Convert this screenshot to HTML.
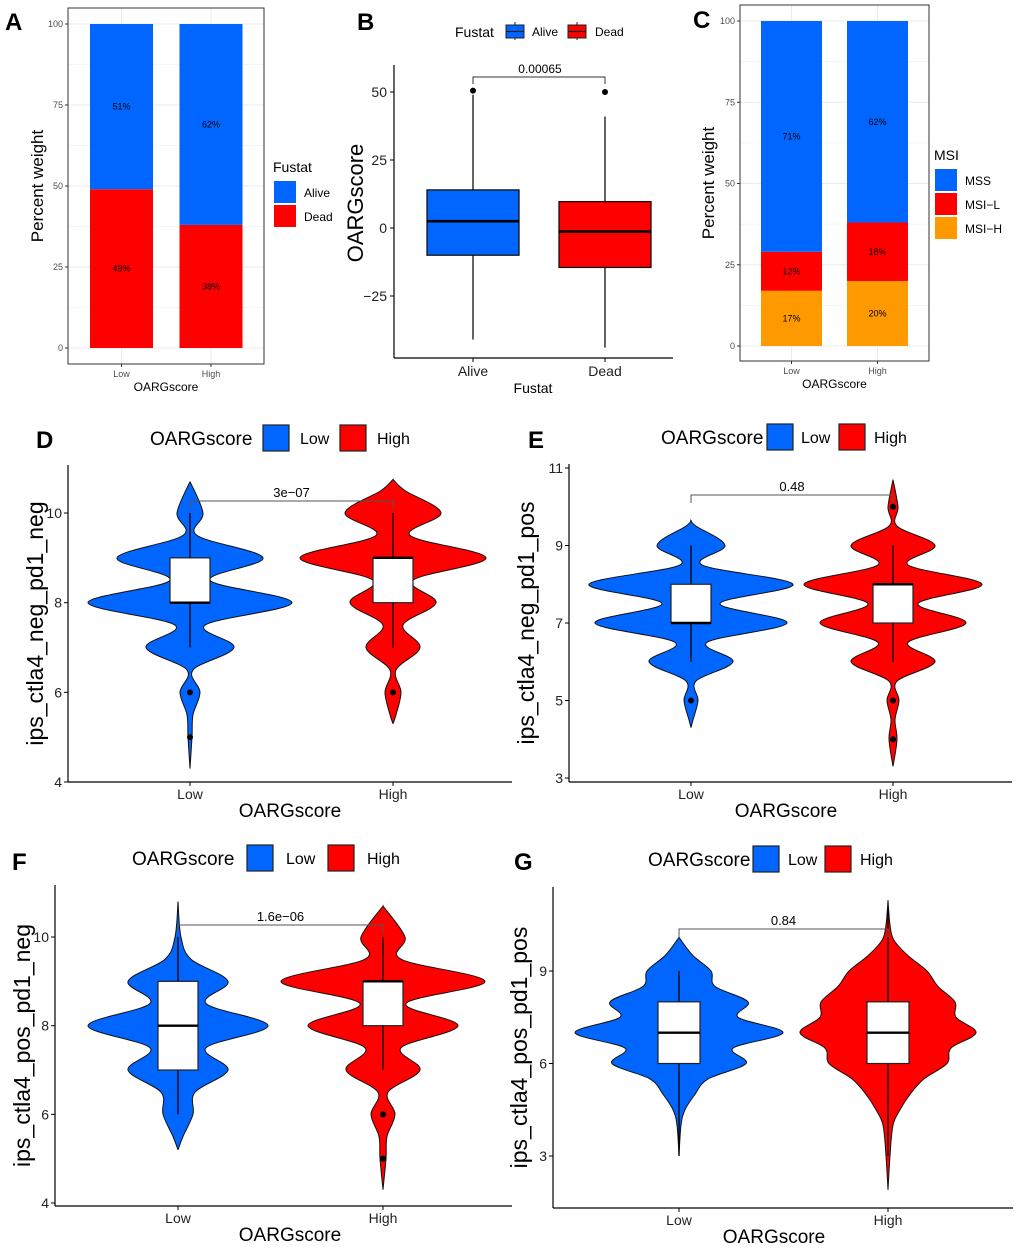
<!DOCTYPE html>
<html><head><meta charset="utf-8">
<style>
html,body{margin:0;padding:0;background:#fff;}
svg{display:block;font-family:"Liberation Sans",Arial,sans-serif;}
</style></head>
<body>
<svg id="fig" width="1020" height="1252" viewBox="0 0 1020 1252" xmlns="http://www.w3.org/2000/svg"></svg>
<script>
// ---------- Panel A data ----------
const aCategories = ["Low","High"];
const aDead = [49, 38];
const aAlive = [51, 62];
// ---------- Panel B data ----------
const bCategories = ["Alive","Dead"];
const bQ1 = [-10, -14.5];
const bMedian = [2.5, -1.3];
const bQ3 = [14, 9.7];
const bWhiskLo = [-41, -44];
const bWhiskHi = [49, 41];
const bOutliers = [[50.5],[50]];
const bTicks = [50, 25, 0, -25];
const bPLabel = "0.00065";
// ---------- Panel C data ----------
const cCategories = ["Low","High"];
const cMSIH = [17, 20];
const cMSIL = [12, 18];
const cMSS = [71, 62];
// ---------- Violin data (values, densities) ----------
const dTicks = [4,6,8,10];
const dLowVals = [4.3,5,5.5,6,6.5,7,7.5,8,8.5,9,9.5,10,10.7];
const dLowDens = [0,0.02,0.03,0.10,0.03,0.44,0.15,1.02,0.20,0.73,0.07,0.13,0];
const dHighVals = [5.3,5.5,6,6.5,7,7.5,8,8.5,9,9.5,10,10.5,10.75];
const dHighDens = [0,0.03,0.08,0.03,0.27,0.10,0.43,0.20,0.93,0.17,0.48,0.12,0];
const dLowBox = [7,8,8,9,10]; const dHighBox = [7,8,9,9,10];
const dLowOut = [6,5]; const dHighOut = [6];

const eTicks = [3,5,7,9,11];
const eLowVals = [4.3,4.5,5,5.5,6,6.5,7,7.5,8,8.5,9,9.5,9.65];
const eLowDens = [0,0.02,0.07,0.05,0.42,0.16,0.96,0.29,1.02,0.11,0.34,0.05,0];
const eHighVals = [3.3,4,4.5,5,5.5,6,6.5,7,7.5,8,8.5,9,9.5,10,10.7];
const eHighDens = [0,0.04,0.02,0.06,0.04,0.42,0.15,0.73,0.25,0.89,0.15,0.42,0.04,0.05,0];
const eLowBox = [6,7,7,8,9]; const eHighBox = [6,7,8,8,9];
const eLowOut = [5]; const eHighOut = [10,5,4];

const fTicks = [4,6,8,10];
const fLowVals = [5.2,5.5,6,6.5,7,7.5,8,8.5,9,9.5,10,10.8];
const fLowDens = [0,0.05,0.15,0.17,0.50,0.28,0.90,0.28,0.50,0.13,0.03,0];
const fHighVals = [4.3,5,5.5,6,6.5,7,7.5,8,8.5,9,9.5,10,10.7];
const fHighDens = [0,0.03,0.04,0.12,0.05,0.37,0.18,0.75,0.23,1.02,0.18,0.22,0];
const fLowBox = [6,7,8,9,10]; const fHighBox = [7,8,9,9,10];
const fLowOut = []; const fHighOut = [6,5];

const gTicks = [3,6,9];
const gLowVals = [3,4,4.5,5,5.5,6,6.5,7,7.5,8,8.5,9,9.5,10,10.1];
const gLowDens = [0,0.02,0.06,0.16,0.29,0.67,0.54,1.04,0.59,0.69,0.36,0.32,0.14,0.02,0];
const gHighVals = [1.9,3,4,4.5,5,5.5,6,6.5,7,7.5,8,8.5,9,9.5,10,10.5,11.3];
const gHighDens = [0,0.02,0.05,0.12,0.22,0.36,0.59,0.63,0.88,0.68,0.67,0.50,0.39,0.20,0.06,0.02,0];
const gLowBox = [3,6,7,8,9]; const gHighBox = [3,6,7,8,11];
const gLowOut = []; const gHighOut = [];

const BLUE = "#0066ff", RED = "#ff0000", ORANGE = "#ff9900";
const svg = document.getElementById("fig");
const NS = "http://www.w3.org/2000/svg";
function mk(tag, attrs, parent, txt){
  const e = document.createElementNS(NS, tag);
  for (const k in attrs) e.setAttribute(k, attrs[k]);
  if (txt !== undefined) e.textContent = txt;
  (parent || svg).appendChild(e);
  return e;
}
function text(x,y,s,size,anchor,opts,parent){
  const o = Object.assign({x:x,y:y,"font-size":size,"text-anchor":anchor||"middle",fill:"#000"}, opts||{});
  return mk("text", o, parent, s);
}

// ---------- panel letters ----------
[["A",5,30],["B",357,30],["C",693,28],["D",36,448],["E",528,448],["F",12,870],["G",514,870]].forEach(p=>{
  const t = text(p[1],p[2],p[0],24,"start",{"font-weight":"bold"});
  
  
});

// ---------- stacked bar panel helper ----------
function stackedPanel(cfg){
  const g = mk("g", {});
  
  
  const y = v => cfg.y0 - v*cfg.k;
  mk("rect",{x:cfg.px0,y:cfg.py0,width:cfg.px1-cfg.px0,height:cfg.py1-cfg.py0,fill:"#fff"},g);
  for (let v=0; v<=100; v+=12.5){
    mk("line",{x1:cfg.px0,x2:cfg.px1,y1:y(v),y2:y(v),stroke:"#ebebeb","stroke-width":(v%25===0)?1:0.5},g);
  }
  cfg.xs.forEach(x=>mk("line",{x1:x,x2:x,y1:cfg.py0,y2:cfg.py1,stroke:"#ebebeb","stroke-width":1},g));
  cfg.series.forEach((s,si)=>{
    cfg.xs.forEach((x,i)=>{
      let base = 0; for (let j=0;j<si;j++) base += cfg.series[j].vals[i];
      const top = base + s.vals[i];
      const r = mk("rect",{x:x-cfg.bw/2,y:y(top),width:cfg.bw,height:y(base)-y(top),fill:s.color},g);
      
      
      const lbl = text(x, y((base+top)/2)+3, s.vals[i]+"%", 9, "middle", {}, g);
      
      
    });
  });
  mk("rect",{x:cfg.px0,y:cfg.py0,width:cfg.px1-cfg.px0,height:cfg.py1-cfg.py0,fill:"none",stroke:"#333","stroke-width":1},g);
  [0,25,50,75,100].forEach(v=>{
    mk("line",{x1:cfg.px0-3,x2:cfg.px0,y1:y(v),y2:y(v),stroke:"#333"},g);
    text(cfg.px0-5,y(v)+3,String(v),9,"end",{fill:"#4d4d4d"},g);
  });
  cfg.xs.forEach((x,i)=>{
    mk("line",{x1:x,x2:x,y1:cfg.py1,y2:cfg.py1+3,stroke:"#333"},g);
    text(x,cfg.py1+13,cfg.cats[i],9,"middle",{fill:"#4d4d4d"},g);
  });
  const xt = text((cfg.px0+cfg.px1)/2,cfg.py1+27,"OARGscore",12,"middle",{},g);
   
  const yt = text(0,0,"Percent weight",17,"middle",{transform:`translate(${cfg.ytx},${(cfg.py0+cfg.py1)/2}) rotate(-90)`},g);
   
  const lg = mk("g",{},g);
   
  text(cfg.lx, cfg.ly, cfg.ltitle, 14, "start", {}, lg);
  cfg.legend.forEach((it,i)=>{
    const r = mk("rect",{x:cfg.lx+1,y:cfg.ly+9+i*24,width:22,height:22,fill:it[1]},lg);
     
    text(cfg.lx+31,cfg.ly+25+i*24,it[0],12,"start",{},lg);
  });
}
stackedPanel({name:"panel-a",px0:68,px1:264,py0:8,py1:364,y0:348,k:3.24,xs:[121.5,211],bw:63,cats:aCategories,
  series:[{key:"dead",vals:aDead,color:RED},{key:"alive",vals:aAlive,color:BLUE}],
  ytx:43,lx:273,ly:172,ltitle:"Fustat",legend:[["Alive",BLUE],["Dead",RED]]});
stackedPanel({name:"panel-c",px0:740,px1:929,py0:5,py1:361,y0:346,k:3.25,xs:[791.5,877.5],bw:61,cats:cCategories,
  series:[{key:"msi-h",vals:cMSIH,color:ORANGE},{key:"msi-l",vals:cMSIL,color:RED},{key:"mss",vals:cMSS,color:BLUE}],
  ytx:714,lx:934,ly:160,ltitle:"MSI",legend:[["MSS",BLUE],["MSI\u2212L",RED],["MSI\u2212H",ORANGE]]});

// ---------- Panel B boxplot ----------
(function(){
  const g = mk("g",{});  
  const y = v => 228 - v*2.72;
  const xs = [473, 605]; const cols = [BLUE, RED]; const hw = 46;
  mk("line",{x1:394,x2:394,y1:65,y2:358,stroke:"#000","stroke-width":1.2},g);
  mk("line",{x1:394,x2:673,y1:358,y2:358,stroke:"#000","stroke-width":1.2},g);
  bTicks.forEach(v=>{
    mk("line",{x1:390,x2:394,y1:y(v),y2:y(v),stroke:"#000"},g);
    text(387,y(v)+5,String(v).replace("-","\u2212"),14,"end",{fill:"#222"},g);
  });
  xs.forEach((x,i)=>{
    mk("line",{x1:x,x2:x,y1:358,y2:362,stroke:"#000"},g);
    text(x,376,bCategories[i],14,"middle",{fill:"#222"},g);
    const w = mk("line",{x1:x,x2:x,y1:y(bWhiskHi[i]),y2:y(bWhiskLo[i]),stroke:"#111","stroke-width":1.3},g);
     
    const b = mk("rect",{x:x-hw,y:y(bQ3[i]),width:2*hw,height:y(bQ1[i])-y(bQ3[i]),fill:cols[i],stroke:"#111","stroke-width":1.3},g);
     
    mk("line",{x1:x-hw,x2:x+hw,y1:y(bMedian[i]),y2:y(bMedian[i]),stroke:"#000","stroke-width":2.6},g);
    bOutliers[i].forEach(o=>{
      const c = mk("circle",{cx:x,cy:y(o),r:3,fill:"#000"},g);
       
    });
  });
  mk("path",{d:`M${xs[0]},84 V77 H${xs[1]} V84`,fill:"none",stroke:"#333","stroke-width":1},g);
  const p = text(540,73,bPLabel,12,"middle",{},g);  
  const yt = text(0,0,"OARGscore",22,"middle",{transform:"translate(363,203) rotate(-90)"},g);
   
  const xt = text(533,393,"Fustat",14,"middle",{},g);  
  const lg = mk("g",{},g);  
  text(455,37,"Fustat",14,"start",{},lg);
  [[515,BLUE,"Alive",532],[577,RED,"Dead",595]].forEach(it=>{
    mk("line",{x1:it[0],x2:it[0],y1:22,y2:40,stroke:"#222"},lg);
    mk("rect",{x:it[0]-9,y:25,width:18,height:13,fill:it[1],stroke:"#222","stroke-width":1},lg);
    mk("line",{x1:it[0]-9,x2:it[0]+9,y1:31.5,y2:31.5,stroke:"#222","stroke-width":1.2},lg);
    text(it[3],36,it[2],12,"start",{},lg);
  });
})();

// ---------- violin panels ----------
function smoothSide(pts){
  let d = "";
  for (let i=0;i<pts.length-1;i++){
    const p0 = pts[Math.max(0,i-1)], p1 = pts[i], p2 = pts[i+1], p3 = pts[Math.min(pts.length-1,i+2)];
    const c1 = [p1[0]+(p2[0]-p0[0])/6, p1[1]+(p2[1]-p0[1])/6];
    const c2 = [p2[0]-(p3[0]-p1[0])/6, p2[1]-(p3[1]-p1[1])/6];
    d += ` C${c1[0].toFixed(1)},${c1[1].toFixed(1)} ${c2[0].toFixed(1)},${c2[1].toFixed(1)} ${p2[0].toFixed(1)},${p2[1].toFixed(1)}`;
  }
  return d;
}
function violinPanel(c){
  const g = mk("g",{});  
  const y = v => c.yb - (v - c.vb)*c.k;
  const scale = 100;
  mk("line",{x1:c.ax,x2:c.ax,y1:c.top,y2:c.bottom,stroke:"#000","stroke-width":1.2},g);
  mk("line",{x1:c.ax,x2:c.right,y1:c.bottom,y2:c.bottom,stroke:"#000","stroke-width":1.2},g);
  c.ticks.forEach(v=>{
    mk("line",{x1:c.ax-4,x2:c.ax,y1:y(v),y2:y(v),stroke:"#000"},g);
    const t = text(c.ax-6,y(v)+5,String(v),14,"end",{fill:"#222"},g);
     
  });
  const groups = [
    {x:c.xs[0],vals:c.lowVals,dens:c.lowDens,box:c.lowBox,out:c.lowOut,col:BLUE,key:"low",lab:"Low"},
    {x:c.xs[1],vals:c.highVals,dens:c.highDens,box:c.highBox,out:c.highOut,col:RED,key:"high",lab:"High"}];
  groups.forEach(gr=>{
    const right = gr.vals.map((v,i)=>[gr.x+gr.dens[i]*scale, y(v)]);
    const left = gr.vals.map((v,i)=>[gr.x-gr.dens[i]*scale, y(v)]).reverse();
    const d = `M${right[0][0]},${right[0][1]}` + smoothSide(right) + ` L${left[0][0]},${left[0][1]}` + smoothSide(left) + " Z";
    const vp = mk("path",{d:d,fill:gr.col,stroke:"#111","stroke-width":1},g);
     
    mk("line",{x1:gr.x,x2:gr.x,y1:y(gr.box[4]),y2:y(gr.box[0]),stroke:"#000","stroke-width":1.3},g);
    const hw = c.bhw;
    const bx = mk("rect",{x:gr.x-hw,y:y(gr.box[3]),width:2*hw,height:y(gr.box[1])-y(gr.box[3]),fill:"#fff",stroke:"#222","stroke-width":1.2},g);
     
    mk("line",{x1:gr.x-hw,x2:gr.x+hw,y1:y(gr.box[2]),y2:y(gr.box[2]),stroke:"#000","stroke-width":2.4},g);
    gr.out.forEach(o=>{
      const ci = mk("circle",{cx:gr.x,cy:y(o),r:3,fill:"#000"},g);
       
    });
    mk("line",{x1:gr.x,x2:gr.x,y1:c.bottom,y2:c.bottom+4,stroke:"#000"},g);
    const xl = text(gr.x,c.bottom+17,gr.lab,14,"middle",{fill:"#222"},g);
     
  });
  mk("path",{d:`M${c.xs[0]},${c.by+8} V${c.by} H${c.xs[1]} V${c.by+8}`,fill:"none",stroke:"#555","stroke-width":1},g);
  const pv = text((c.xs[0]+c.xs[1])/2,c.by-4,c.p,13,"middle",{},g);
   
  const yt = text(0,0,c.ytitle,23,"middle",{transform:`translate(${c.ytx},${(c.top+c.bottom)/2}) rotate(-90)`},g);
   
  const xt = text(c.xtx,c.bottom+35,"OARGscore",19,"middle",{},g);
   
  const lg = mk("g",{},g);  
  text(c.leg[0],c.legY+7,"OARGscore",19,"start",{},lg);
  const k1 = mk("rect",{x:c.leg[1],y:c.legY-13,width:26,height:26,fill:BLUE,stroke:"#222","stroke-width":1.2},lg);
   
  text(c.leg[2],c.legY+6,"Low",16,"start",{},lg);
  const k2 = mk("rect",{x:c.leg[3],y:c.legY-13,width:26,height:26,fill:RED,stroke:"#222","stroke-width":1.2},lg);
   
  text(c.leg[4],c.legY+6,"High",16,"start",{},lg);
}
violinPanel({name:"panel-d",ax:68,top:465,bottom:782,right:512,xs:[190,393],yb:782,vb:4,k:44.83,ticks:dTicks,bhw:20,
  lowVals:dLowVals,lowDens:dLowDens,highVals:dHighVals,highDens:dHighDens,lowBox:dLowBox,highBox:dHighBox,lowOut:dLowOut,highOut:dHighOut,
  by:501,p:"3e\u221207",ytitle:"ips_ctla4_neg_pd1_neg",ytx:43,xtx:290,legY:438,leg:[150,263,300,340,377]});
violinPanel({name:"panel-e",ax:569,top:464,bottom:782,right:1012,xs:[691,893],yb:778,vb:3,k:38.75,ticks:eTicks,bhw:20,
  lowVals:eLowVals,lowDens:eLowDens,highVals:eHighVals,highDens:eHighDens,lowBox:eLowBox,highBox:eHighBox,lowOut:eLowOut,highOut:eHighOut,
  by:495,p:"0.48",ytitle:"ips_ctla4_neg_pd1_pos",ytx:534,xtx:786,legY:437,leg:[661,767,801,839,874]});
violinPanel({name:"panel-f",ax:55,top:885,bottom:1206,right:512,xs:[178,383],yb:1203,vb:4,k:44.33,ticks:fTicks,bhw:20,
  lowVals:fLowVals,lowDens:fLowDens,highVals:fHighVals,highDens:fHighDens,lowBox:fLowBox,highBox:fHighBox,lowOut:fLowOut,highOut:fHighOut,
  by:925,p:"1.6e\u221206",ytitle:"ips_ctla4_pos_pd1_neg",ytx:30,xtx:290,legY:858,leg:[132,247,286,328,367]});
violinPanel({name:"panel-g",ax:553,top:887,bottom:1208,right:1013,xs:[679,888],yb:1156,vb:3,k:30.83,ticks:gTicks,bhw:21,
  lowVals:gLowVals,lowDens:gLowDens,highVals:gHighVals,highDens:gHighDens,lowBox:gLowBox,highBox:gHighBox,lowOut:gLowOut,highOut:gHighOut,
  by:929,p:"0.84",ytitle:"ips_ctla4_pos_pd1_pos",ytx:527,xtx:774,legY:859,leg:[648,753,788,825,860]});
</script>
</body></html>
